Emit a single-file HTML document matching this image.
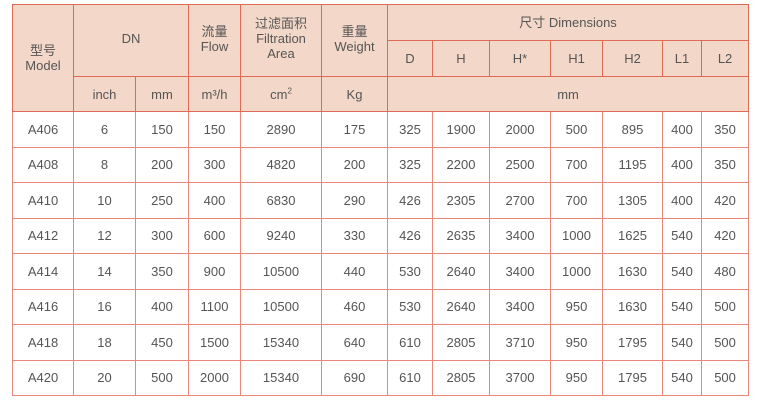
<!DOCTYPE html>
<html><head><meta charset="utf-8"><style>
html,body{margin:0;padding:0;background:#fff;width:765px;height:403px;overflow:hidden}
table{position:absolute;left:12px;top:4px;border-collapse:collapse;table-layout:fixed;width:737px;
font-family:"Liberation Sans","Noto Sans CJK SC",sans-serif;font-size:13px;color:#555}
td{border:1px solid #e8877a;text-align:center;vertical-align:middle;padding:0;line-height:15px}
tr.h td{background:#f3d8c9;border-color:#dd6a55}
tr.r td{height:34.5px}
sup{font-size:8px;line-height:0}
</style></head><body>
<table>
<colgroup><col style="width:61px"><col style="width:62px"><col style="width:53px"><col style="width:52px"><col style="width:81px"><col style="width:66px"><col style="width:45px"><col style="width:57px"><col style="width:61px"><col style="width:52px"><col style="width:60px"><col style="width:39px"><col style="width:47px"></colgroup>
<tr class="h" style="height:36px"><td rowspan="3">型号<br>Model</td><td colspan="2" rowspan="2" style="padding-bottom:4px">DN</td><td rowspan="2" style="padding-bottom:4px">流量<br>Flow</td><td rowspan="2" style="padding-bottom:4px">过滤面积<br>Filtration<br>Area</td><td rowspan="2" style="padding-bottom:4px">重量<br>Weight</td><td colspan="7">尺寸 Dimensions</td></tr>
<tr class="h" style="height:36px"><td>D</td><td>H</td><td>H*</td><td>H1</td><td>H2</td><td>L1</td><td>L2</td></tr>
<tr class="h" style="height:35px"><td>inch</td><td>mm</td><td>m³/h</td><td>cm<sup>2</sup></td><td>Kg</td><td colspan="7">mm</td></tr>
<tr class="r"><td>A406</td><td>6</td><td>150</td><td>150</td><td>2890</td><td>175</td><td>325</td><td>1900</td><td>2000</td><td>500</td><td>895</td><td>400</td><td>350</td></tr>
<tr class="r"><td>A408</td><td>8</td><td>200</td><td>300</td><td>4820</td><td>200</td><td>325</td><td>2200</td><td>2500</td><td>700</td><td>1195</td><td>400</td><td>350</td></tr>
<tr class="r"><td>A410</td><td>10</td><td>250</td><td>400</td><td>6830</td><td>290</td><td>426</td><td>2305</td><td>2700</td><td>700</td><td>1305</td><td>400</td><td>420</td></tr>
<tr class="r"><td>A412</td><td>12</td><td>300</td><td>600</td><td>9240</td><td>330</td><td>426</td><td>2635</td><td>3400</td><td>1000</td><td>1625</td><td>540</td><td>420</td></tr>
<tr class="r"><td>A414</td><td>14</td><td>350</td><td>900</td><td>10500</td><td>440</td><td>530</td><td>2640</td><td>3400</td><td>1000</td><td>1630</td><td>540</td><td>480</td></tr>
<tr class="r"><td>A416</td><td>16</td><td>400</td><td>1100</td><td>10500</td><td>460</td><td>530</td><td>2640</td><td>3400</td><td>950</td><td>1630</td><td>540</td><td>500</td></tr>
<tr class="r"><td>A418</td><td>18</td><td>450</td><td>1500</td><td>15340</td><td>640</td><td>610</td><td>2805</td><td>3710</td><td>950</td><td>1795</td><td>540</td><td>500</td></tr>
<tr class="r"><td>A420</td><td>20</td><td>500</td><td>2000</td><td>15340</td><td>690</td><td>610</td><td>2805</td><td>3700</td><td>950</td><td>1795</td><td>540</td><td>500</td></tr>
</table>
</body></html>
